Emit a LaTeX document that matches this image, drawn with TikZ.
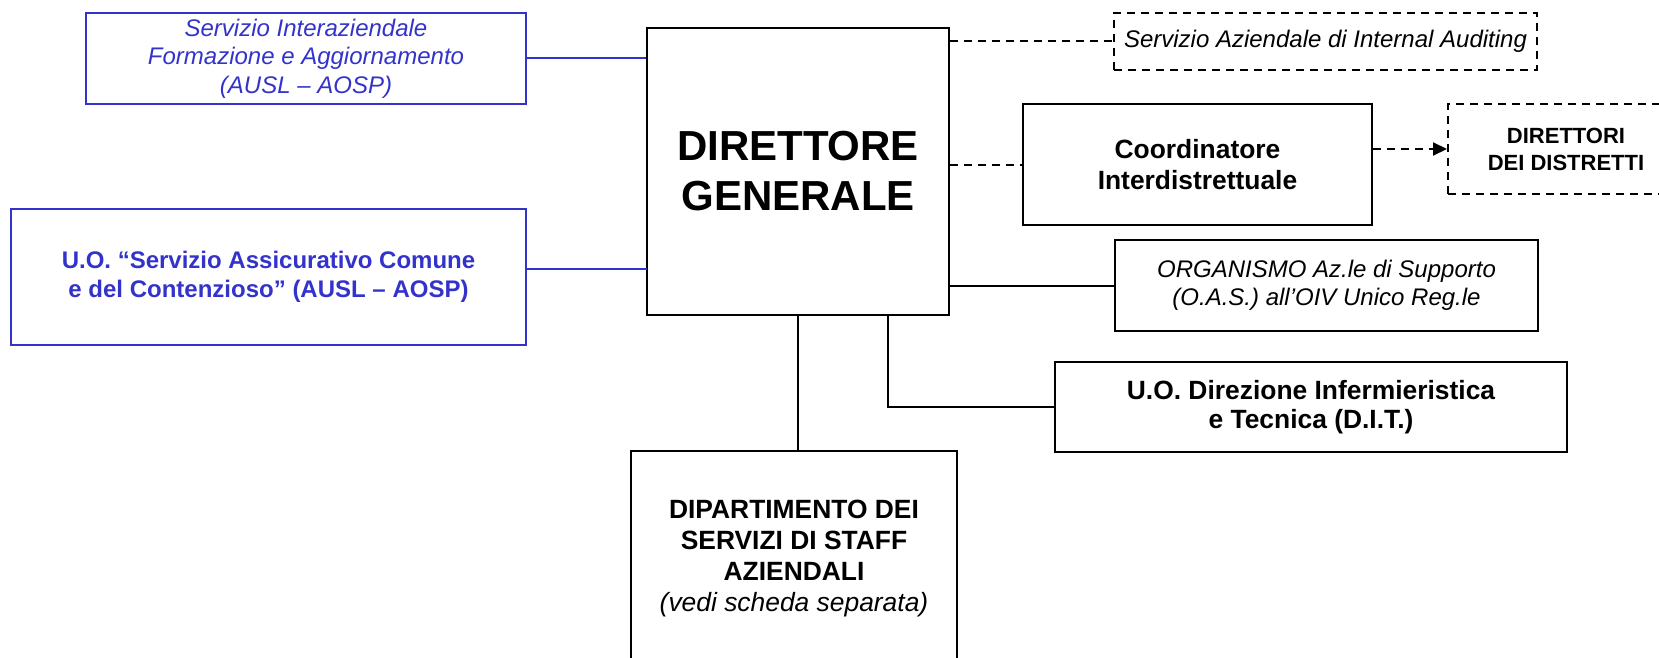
\documentclass[tikz,border=0pt]{standalone}
\usepackage{fontspec}
\setmainfont{Liberation Sans}
\usetikzlibrary{arrows.meta}
\definecolor{uoblue}{RGB}{51,51,204}

\begin{document}
\begin{tikzpicture}[x=0.5pt, y=-0.5pt,
    box/.style={draw, line width=1pt, inner sep=0pt, align=center},
    bluebox/.style={box, draw=uoblue, text=uoblue, line width=1pt},
    dashbox/.style={box, dash pattern=on 4pt off 3pt},
    link/.style={line width=1pt},
    dashlink/.style={line width=1pt, dash pattern=on 4pt off 3pt},
    bluelink/.style={line width=1pt, draw=uoblue}]
    \clip (0,0) rectangle (1659,658);
    \node[box, minimum width=151pt, minimum height=143.5pt, font=\fontsize{21}{25}\selectfont\bfseries] (dg) at (798,171.5) {DIRETTORE\\GENERALE};
    \node[bluebox, minimum width=220pt, minimum height=45.5pt, font=\fontsize{12}{14.25}\selectfont\itshape] (sifa) at (306,58.5) {Servizio Interaziendale\\Formazione e Aggiornamento\\(AUSL – AOSP)};
    \node[bluebox, minimum width=257.5pt, minimum height=68pt, font=\fontsize{12}{14.5}\selectfont\bfseries] (sacc) at (268.5,277) {U.O. “Servizio Assicurativo Comune\\e del Contenzioso” (AUSL – AOSP)};
    \node[dashbox, minimum width=211.5pt, minimum height=28.5pt, font=\fontsize{12}{14}\selectfont\itshape] (audit) at (1325.5,41.5) {Servizio Aziendale di Internal Auditing};
    \node[box, minimum width=174.5pt, minimum height=60.5pt, font=\fontsize{13.2}{15.5}\selectfont\bfseries] (coord) at (1197.5,164.5) {Coordinatore\\Interdistrettuale};
    \node[dashbox, minimum width=118pt, minimum height=45pt, font=\fontsize{11}{13.5}\selectfont\bfseries] (distr) at (1566,149) {DIRETTORI\\DEI DISTRETTI};
    \node[box, minimum width=211.5pt, minimum height=45.5pt, font=\fontsize{12}{14}\selectfont\itshape] (oas) at (1326.5,285.5) {ORGANISMO Az.le di Supporto\\(O.A.S.) all’OIV Unico Reg.le};
    \node[box, minimum width=256pt, minimum height=45pt, font=\fontsize{13.2}{14.5}\selectfont\bfseries] (dit) at (1311,407) {U.O. Direzione Infermieristica\\e Tecnica (D.I.T.)};
    \node[box, minimum width=163pt, minimum height=107.5pt, font=\fontsize{13.2}{15.5}\selectfont\bfseries] (dip) at (794,558.5) {DIPARTIMENTO DEI\\SERVIZI DI STAFF\\AZIENDALI\\{\mdseries\itshape (vedi scheda separata)}};
    \coordinate (jsacc) at (647,269);
    \coordinate (tapdit) at (888,315);
    \draw[bluelink] (sifa.east) -- (sifa.east -| dg.west);
    \draw[bluelink] (sacc.east |- jsacc) -- (jsacc);
    \draw[dashlink] (dg.east |- audit.west) -- (audit.west);
    \draw[dashlink] (dg.east |- coord.west) -- (coord.west);
    \draw[dashlink, -{Triangle[length=7pt, width=6.5pt]}] (coord.east |- distr.west) -- (distr.west);
    \draw[link] (dg.east |- oas.west) -- (oas.west);
    \draw[link] (tapdit) |- (dit.west);
    \draw[link] (dg.south) -- (dip.north -| dg.south);
\end{tikzpicture}
\end{document}
